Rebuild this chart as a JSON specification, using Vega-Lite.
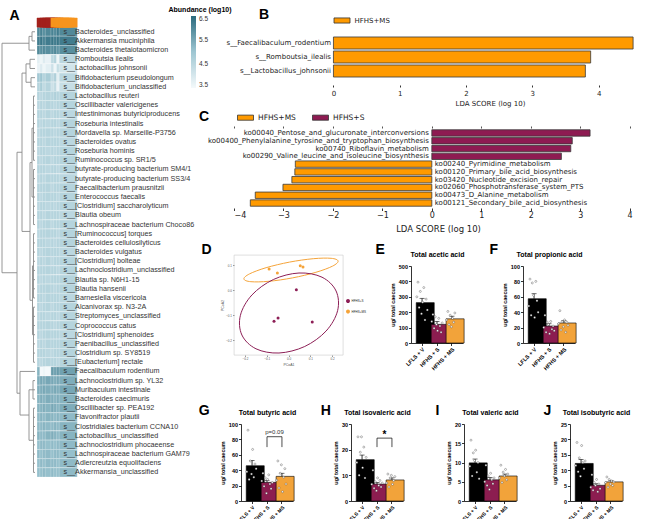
{
 "$schema": "https://vega.github.io/schema/vega-lite/v6.json",
 "background": "#ffffff",
 "padding": {"left": 0, "top": 6, "right": 0, "bottom": 0},
 "config": {
  "view": {"stroke": null},
  "font": "Liberation Sans",
  "axis": {"grid": false, "domainColor": "#000000", "tickColor": "#000000", "labelColor": "#000000", "titleColor": "#000000"},
  "legend": {"labelColor": "#222222"}
 },
 "datasets": {
  "heat": [
   {"sp":"s__Bacteroides_unclassified","S1":6.0,"S2":6.1,"S3":5.9,"S4":6.0,"M1":6.1,"M2":6.0,"M3":6.2,"M4":6.0},
   {"sp":"s__Akkermansia muciniphila","S1":6.2,"S2":6.3,"S3":6.1,"S4":6.2,"M1":6.3,"M2":6.2,"M3":6.3,"M4":6.2},
   {"sp":"s__Bacteroides thetaiotaomicron","S1":6.0,"S2":5.9,"S3":6.0,"S4":5.9,"M1":5.9,"M2":6.0,"M3":5.8,"M4":5.9},
   {"sp":"s__Romboutsia ilealis","S1":3.8,"S2":3.6,"S3":3.9,"S4":3.7,"M1":4.4,"M2":4.6,"M3":3.6,"M4":4.5},
   {"sp":"s__Lactobacillus johnsonii","S1":3.7,"S2":3.9,"S3":3.6,"S4":3.8,"M1":4.2,"M2":3.6,"M3":4.3,"M4":4.1},
   {"sp":"s__Bifidobacterium pseudolongum","S1":4.9,"S2":5.0,"S3":4.6,"S4":4.8,"M1":4.4,"M2":4.7,"M3":3.8,"M4":4.5},
   {"sp":"s__Bifidobacterium_unclassified","S1":4.6,"S2":4.8,"S3":4.4,"S4":4.6,"M1":4.2,"M2":4.4,"M3":3.7,"M4":4.3},
   {"sp":"s__Lactobacillus reuteri","S1":4.6,"S2":4.5,"S3":4.6,"S4":4.6,"M1":4.6,"M2":4.7,"M3":4.6,"M4":4.6},
   {"sp":"s__Oscillibacter valericigenes","S1":4.5,"S2":4.6,"S3":4.5,"S4":4.6,"M1":4.6,"M2":4.5,"M3":4.6,"M4":4.6},
   {"sp":"s__Intestinimonas butyriciproducens","S1":4.6,"S2":4.6,"S3":4.5,"S4":4.6,"M1":4.5,"M2":4.6,"M3":4.6,"M4":4.5},
   {"sp":"s__Roseburia intestinalis","S1":4.6,"S2":4.5,"S3":4.6,"S4":4.5,"M1":4.6,"M2":4.6,"M3":4.5,"M4":4.6},
   {"sp":"s__Mordavella sp. Marseille-P3756","S1":4.5,"S2":4.6,"S3":4.6,"S4":4.6,"M1":4.6,"M2":4.5,"M3":4.6,"M4":4.6},
   {"sp":"s__Bacteroides ovatus","S1":4.6,"S2":4.6,"S3":4.5,"S4":4.6,"M1":4.6,"M2":4.6,"M3":4.6,"M4":4.5},
   {"sp":"s__Roseburia hominis","S1":4.5,"S2":4.6,"S3":4.6,"S4":4.5,"M1":4.6,"M2":4.5,"M3":4.6,"M4":4.6},
   {"sp":"s__Ruminococcus sp. SR1/5","S1":4.6,"S2":4.5,"S3":4.6,"S4":4.6,"M1":4.5,"M2":4.6,"M3":4.6,"M4":4.6},
   {"sp":"s__butyrate-producing bacterium SM4/1","S1":4.6,"S2":4.6,"S3":4.6,"S4":4.5,"M1":4.6,"M2":4.6,"M3":4.5,"M4":4.6},
   {"sp":"s__butyrate-producing bacterium SS3/4","S1":4.5,"S2":4.6,"S3":4.5,"S4":4.6,"M1":4.6,"M2":4.6,"M3":4.6,"M4":4.5},
   {"sp":"s__Faecalibacterium prausnitzii","S1":4.6,"S2":4.6,"S3":4.6,"S4":4.6,"M1":4.5,"M2":4.6,"M3":4.6,"M4":4.6},
   {"sp":"s__Enterococcus faecalis","S1":4.6,"S2":4.5,"S3":4.6,"S4":4.6,"M1":4.6,"M2":4.6,"M3":4.5,"M4":4.6},
   {"sp":"s__[Clostridium] saccharolyticum","S1":4.5,"S2":4.6,"S3":4.6,"S4":4.5,"M1":4.6,"M2":4.5,"M3":4.6,"M4":4.6},
   {"sp":"s__Blautia obeum","S1":4.6,"S2":4.6,"S3":4.5,"S4":4.6,"M1":4.6,"M2":4.6,"M3":4.6,"M4":4.5},
   {"sp":"s__Lachnospiraceae bacterium Choco86","S1":4.6,"S2":4.5,"S3":4.6,"S4":4.6,"M1":4.5,"M2":4.6,"M3":4.6,"M4":4.6},
   {"sp":"s__[Ruminococcus] torques","S1":4.5,"S2":4.6,"S3":4.6,"S4":4.6,"M1":4.6,"M2":4.6,"M3":4.5,"M4":4.6},
   {"sp":"s__Bacteroides cellulosilyticus","S1":4.6,"S2":4.6,"S3":4.6,"S4":4.5,"M1":4.6,"M2":4.5,"M3":4.6,"M4":4.6},
   {"sp":"s__Bacteroides vulgatus","S1":4.6,"S2":4.5,"S3":4.6,"S4":4.6,"M1":4.6,"M2":4.6,"M3":4.6,"M4":4.5},
   {"sp":"s__[Clostridium] bolteae","S1":4.5,"S2":4.6,"S3":4.5,"S4":4.6,"M1":4.5,"M2":4.6,"M3":4.6,"M4":4.6},
   {"sp":"s__Lachnoclostridium_unclassified","S1":4.6,"S2":4.6,"S3":4.6,"S4":4.6,"M1":4.6,"M2":4.6,"M3":4.5,"M4":4.6},
   {"sp":"s__Blautia sp. N6H1-15","S1":4.6,"S2":4.5,"S3":4.6,"S4":4.5,"M1":4.6,"M2":4.6,"M3":4.6,"M4":4.6},
   {"sp":"s__Blautia hansenii","S1":4.5,"S2":4.6,"S3":4.6,"S4":4.6,"M1":4.6,"M2":4.5,"M3":4.6,"M4":4.6},
   {"sp":"s__Barnesiella viscericola","S1":4.6,"S2":4.6,"S3":4.5,"S4":4.6,"M1":4.6,"M2":4.6,"M3":4.6,"M4":4.5},
   {"sp":"s__Alcanivorax sp. N3-2A","S1":4.6,"S2":4.5,"S3":4.6,"S4":4.6,"M1":4.5,"M2":4.6,"M3":4.6,"M4":4.6},
   {"sp":"s__Streptomyces_unclassified","S1":4.5,"S2":4.6,"S3":4.6,"S4":4.5,"M1":4.6,"M2":4.6,"M3":4.5,"M4":4.6},
   {"sp":"s__Coprococcus catus","S1":4.6,"S2":4.6,"S3":4.6,"S4":4.6,"M1":4.6,"M2":4.5,"M3":4.6,"M4":4.6},
   {"sp":"s__[Clostridium] sphenoides","S1":4.6,"S2":4.5,"S3":4.6,"S4":4.6,"M1":4.6,"M2":4.6,"M3":4.6,"M4":4.5},
   {"sp":"s__Paenibacillus_unclassified","S1":4.5,"S2":4.6,"S3":4.5,"S4":4.6,"M1":4.6,"M2":4.6,"M3":4.6,"M4":4.6},
   {"sp":"s__Clostridium sp. SY8519","S1":4.6,"S2":4.6,"S3":4.6,"S4":4.5,"M1":4.5,"M2":4.6,"M3":4.6,"M4":4.6},
   {"sp":"s__[Eubacterium] rectale","S1":4.6,"S2":4.5,"S3":4.6,"S4":4.6,"M1":4.6,"M2":4.6,"M3":4.5,"M4":4.6},
   {"sp":"s__Faecalibaculum rodentium","S1":5.3,"S2":3.5,"S3":3.6,"S4":3.5,"M1":5.7,"M2":5.6,"M3":5.7,"M4":5.6},
   {"sp":"s__Lachnoclostridium sp. YL32","S1":5.4,"S2":5.5,"S3":5.4,"S4":5.5,"M1":5.5,"M2":5.4,"M3":5.5,"M4":5.4},
   {"sp":"s__Muribaculum intestinale","S1":5.4,"S2":5.4,"S3":5.5,"S4":5.4,"M1":5.4,"M2":5.5,"M3":5.4,"M4":5.5},
   {"sp":"s__Bacteroides caecimuris","S1":5.3,"S2":5.4,"S3":5.3,"S4":5.4,"M1":5.4,"M2":5.3,"M3":5.4,"M4":5.3},
   {"sp":"s__Oscillibacter sp. PEA192","S1":5.3,"S2":5.3,"S3":5.4,"S4":5.3,"M1":5.5,"M2":5.4,"M3":5.3,"M4":5.4},
   {"sp":"s__Flavonifractor plautii","S1":5.2,"S2":5.3,"S3":5.2,"S4":5.3,"M1":5.3,"M2":5.2,"M3":5.3,"M4":5.2},
   {"sp":"s__Clostridiales bacterium CCNA10","S1":5.2,"S2":5.2,"S3":5.3,"S4":5.2,"M1":5.2,"M2":5.3,"M3":5.2,"M4":5.3},
   {"sp":"s__Lactobacillus_unclassified","S1":5.3,"S2":5.2,"S3":5.2,"S4":5.3,"M1":5.4,"M2":5.3,"M3":5.2,"M4":5.3},
   {"sp":"s__Lachnoclostridium phocaeense","S1":5.1,"S2":5.2,"S3":5.2,"S4":5.1,"M1":5.2,"M2":5.1,"M3":5.2,"M4":5.2},
   {"sp":"s__Lachnospiraceae bacterium GAM79","S1":5.2,"S2":5.1,"S3":5.2,"S4":5.2,"M1":5.1,"M2":5.2,"M3":5.2,"M4":5.1},
   {"sp":"s__Adlercreutzia equolifaciens","S1":5.1,"S2":5.2,"S3":5.1,"S4":5.2,"M1":5.2,"M2":5.2,"M3":5.1,"M4":5.2},
   {"sp":"s__Akkermansia_unclassified","S1":5.1,"S2":5.1,"S3":5.2,"S4":5.1,"M1":5.2,"M2":5.1,"M3":5.1,"M4":5.2}
  ],
  "dendro": [
   {"h1":0,"h2":3,"r1":1,"r2":1},{"h1":0,"h2":3,"r1":2,"r2":2},{"h1":3,"h2":3,"r1":1,"r2":2},{"h1":3,"h2":6,"r1":1.5,"r2":1.5},{"h1":0,"h2":6,"r1":3,"r2":3},{"h1":6,"h2":6,"r1":1.5,"r2":3},
   {"h1":0,"h2":5,"r1":4,"r2":4},{"h1":0,"h2":5,"r1":5,"r2":5},{"h1":5,"h2":5,"r1":4,"r2":5},{"h1":5,"h2":9,"r1":4.5,"r2":4.5},{"h1":0,"h2":4,"r1":6,"r2":6},{"h1":0,"h2":4,"r1":7,"r2":7},{"h1":4,"h2":4,"r1":6,"r2":7},{"h1":4,"h2":9,"r1":6.5,"r2":6.5},{"h1":9,"h2":9,"r1":4.5,"r2":6.5},
   {"h1":0,"h2":1.5,"r1":8,"r2":8},{"h1":0,"h2":1.5,"r1":9,"r2":9},{"h1":0,"h2":1.5,"r1":10,"r2":10},{"h1":0,"h2":1.5,"r1":11,"r2":11},{"h1":0,"h2":1.5,"r1":12,"r2":12},{"h1":0,"h2":1.5,"r1":13,"r2":13},{"h1":0,"h2":1.5,"r1":14,"r2":14},{"h1":0,"h2":1.5,"r1":15,"r2":15},
   {"h1":0,"h2":1.5,"r1":16,"r2":16},{"h1":0,"h2":1.5,"r1":17,"r2":17},{"h1":0,"h2":1.5,"r1":18,"r2":18},{"h1":0,"h2":1.5,"r1":19,"r2":19},{"h1":0,"h2":1.5,"r1":20,"r2":20},{"h1":0,"h2":1.5,"r1":21,"r2":21},{"h1":0,"h2":1.5,"r1":22,"r2":22},
   {"h1":0,"h2":1.5,"r1":23,"r2":23},{"h1":0,"h2":1.5,"r1":24,"r2":24},{"h1":0,"h2":1.5,"r1":25,"r2":25},{"h1":0,"h2":1.5,"r1":26,"r2":26},{"h1":0,"h2":1.5,"r1":27,"r2":27},{"h1":0,"h2":1.5,"r1":28,"r2":28},{"h1":0,"h2":1.5,"r1":29,"r2":29},{"h1":0,"h2":1.5,"r1":30,"r2":30},
   {"h1":0,"h2":1.5,"r1":31,"r2":31},{"h1":0,"h2":1.5,"r1":32,"r2":32},{"h1":0,"h2":1.5,"r1":33,"r2":33},{"h1":0,"h2":1.5,"r1":34,"r2":34},{"h1":0,"h2":1.5,"r1":35,"r2":35},{"h1":0,"h2":1.5,"r1":36,"r2":36},{"h1":0,"h2":1.5,"r1":37,"r2":37},
   {"h1":1.5,"h2":1.5,"r1":8,"r2":15},{"h1":1.5,"h2":1.5,"r1":16,"r2":22},{"h1":1.5,"h2":1.5,"r1":23,"r2":30},{"h1":1.5,"h2":1.5,"r1":31,"r2":37},
   {"h1":1.5,"h2":3,"r1":11.5,"r2":11.5},{"h1":1.5,"h2":3,"r1":19,"r2":19},{"h1":3,"h2":3,"r1":11.5,"r2":19},
   {"h1":1.5,"h2":2.5,"r1":26.5,"r2":26.5},{"h1":1.5,"h2":2.5,"r1":34,"r2":34},{"h1":2.5,"h2":2.5,"r1":26.5,"r2":34},
   {"h1":3,"h2":5,"r1":15.25,"r2":15.25},{"h1":2.5,"h2":5,"r1":30.25,"r2":30.25},{"h1":5,"h2":5,"r1":15.25,"r2":30.25},
   {"h1":9,"h2":13,"r1":5.5,"r2":5.5},{"h1":5,"h2":13,"r1":22.75,"r2":22.75},{"h1":13,"h2":13,"r1":5.5,"r2":22.75},
   {"h1":0,"h2":2,"r1":39,"r2":39},{"h1":0,"h2":2,"r1":40,"r2":40},{"h1":0,"h2":2,"r1":41,"r2":41},{"h1":2,"h2":2,"r1":39,"r2":41},
   {"h1":0,"h2":1.5,"r1":42,"r2":42},{"h1":0,"h2":1.5,"r1":43,"r2":43},{"h1":0,"h2":1.5,"r1":44,"r2":44},{"h1":0,"h2":1.5,"r1":45,"r2":45},{"h1":0,"h2":1.5,"r1":46,"r2":46},{"h1":0,"h2":1.5,"r1":47,"r2":47},{"h1":0,"h2":1.5,"r1":48,"r2":48},{"h1":0,"h2":1.5,"r1":49,"r2":49},{"h1":1.5,"h2":1.5,"r1":42,"r2":49},
   {"h1":2,"h2":6,"r1":40,"r2":40},{"h1":1.5,"h2":6,"r1":45.5,"r2":45.5},{"h1":6,"h2":6,"r1":40,"r2":45.5},
   {"h1":0,"h2":15,"r1":38,"r2":38},{"h1":6,"h2":15,"r1":42.75,"r2":42.75},{"h1":15,"h2":15,"r1":38,"r2":42.75},
   {"h1":13,"h2":18,"r1":14.125,"r2":14.125},{"h1":15,"h2":18,"r1":40.375,"r2":40.375},{"h1":18,"h2":18,"r1":14.125,"r2":40.375},
   {"h1":6,"h2":33,"r1":2.25,"r2":2.25},{"h1":18,"h2":33,"r1":27.25,"r2":27.25},{"h1":33,"h2":33,"r1":2.25,"r2":27.25}
  ],
  "bars": [
   {"panel":"E","grp":"LFLS + V","mean":262,"hi":290},{"panel":"E","grp":"HFHS + S","mean":121,"hi":140},{"panel":"E","grp":"HFHS + MS","mean":157,"hi":174},
   {"panel":"F","grp":"LFLS + V","mean":57.5,"hi":64},{"panel":"F","grp":"HFHS + S","mean":22,"hi":25},{"panel":"F","grp":"HFHS + MS","mean":26,"hi":29},
   {"panel":"G","grp":"LFLS + V","mean":45.8,"hi":52.5},{"panel":"G","grp":"HFHS + S","mean":24.2,"hi":26.8},{"panel":"G","grp":"HFHS + MS","mean":32,"hi":36},
   {"panel":"H","grp":"LFLS + V","mean":16.1,"hi":17.9},{"panel":"H","grp":"HFHS + S","mean":6.6,"hi":7.2},{"panel":"H","grp":"HFHS + MS","mean":8.2,"hi":9.0},
   {"panel":"I","grp":"LFLS + V","mean":9.9,"hi":10.9},{"panel":"I","grp":"HFHS + S","mean":5.5,"hi":6.1},{"panel":"I","grp":"HFHS + MS","mean":6.5,"hi":7.0},
   {"panel":"J","grp":"LFLS + V","mean":12.2,"hi":13.5},{"panel":"J","grp":"HFHS + S","mean":5.1,"hi":5.6},{"panel":"J","grp":"HFHS + MS","mean":6.2,"hi":6.7}
  ],
  "pts": [
   {"panel":"E","grp":"LFLS + V","rep":1,"v":300},{"panel":"E","grp":"LFLS + V","rep":2,"v":395},{"panel":"E","grp":"LFLS + V","rep":3,"v":230},{"panel":"E","grp":"LFLS + V","rep":4,"v":335},{"panel":"E","grp":"LFLS + V","rep":5,"v":190},{"panel":"E","grp":"LFLS + V","rep":6,"v":265},{"panel":"E","grp":"LFLS + V","rep":7,"v":360},{"panel":"E","grp":"LFLS + V","rep":8,"v":150},{"panel":"E","grp":"LFLS + V","rep":9,"v":285},{"panel":"E","grp":"LFLS + V","rep":10,"v":215},
   {"panel":"E","grp":"HFHS + S","rep":1,"v":140},{"panel":"E","grp":"HFHS + S","rep":2,"v":185},{"panel":"E","grp":"HFHS + S","rep":3,"v":95},{"panel":"E","grp":"HFHS + S","rep":4,"v":170},{"panel":"E","grp":"HFHS + S","rep":5,"v":120},{"panel":"E","grp":"HFHS + S","rep":6,"v":80},{"panel":"E","grp":"HFHS + S","rep":7,"v":160},{"panel":"E","grp":"HFHS + S","rep":8,"v":110},{"panel":"E","grp":"HFHS + S","rep":9,"v":70},{"panel":"E","grp":"HFHS + S","rep":10,"v":130},
   {"panel":"E","grp":"HFHS + MS","rep":1,"v":150},{"panel":"E","grp":"HFHS + MS","rep":2,"v":205},{"panel":"E","grp":"HFHS + MS","rep":3,"v":120},{"panel":"E","grp":"HFHS + MS","rep":4,"v":180},{"panel":"E","grp":"HFHS + MS","rep":5,"v":105},{"panel":"E","grp":"HFHS + MS","rep":6,"v":160},{"panel":"E","grp":"HFHS + MS","rep":7,"v":135},{"panel":"E","grp":"HFHS + MS","rep":8,"v":195},
   {"panel":"F","grp":"LFLS + V","rep":1,"v":48},{"panel":"F","grp":"LFLS + V","rep":2,"v":83},{"panel":"F","grp":"LFLS + V","rep":3,"v":36},{"panel":"F","grp":"LFLS + V","rep":4,"v":78},{"panel":"F","grp":"LFLS + V","rep":5,"v":62},{"panel":"F","grp":"LFLS + V","rep":6,"v":33},{"panel":"F","grp":"LFLS + V","rep":7,"v":80},{"panel":"F","grp":"LFLS + V","rep":8,"v":55},{"panel":"F","grp":"LFLS + V","rep":9,"v":40},
   {"panel":"F","grp":"HFHS + S","rep":1,"v":20},{"panel":"F","grp":"HFHS + S","rep":2,"v":36},{"panel":"F","grp":"HFHS + S","rep":3,"v":14},{"panel":"F","grp":"HFHS + S","rep":4,"v":27},{"panel":"F","grp":"HFHS + S","rep":5,"v":24},{"panel":"F","grp":"HFHS + S","rep":6,"v":12},{"panel":"F","grp":"HFHS + S","rep":7,"v":28},{"panel":"F","grp":"HFHS + S","rep":8,"v":18},{"panel":"F","grp":"HFHS + S","rep":9,"v":22},{"panel":"F","grp":"HFHS + S","rep":10,"v":16},
   {"panel":"F","grp":"HFHS + MS","rep":1,"v":25},{"panel":"F","grp":"HFHS + MS","rep":2,"v":42},{"panel":"F","grp":"HFHS + MS","rep":3,"v":17},{"panel":"F","grp":"HFHS + MS","rep":4,"v":28},{"panel":"F","grp":"HFHS + MS","rep":5,"v":21},{"panel":"F","grp":"HFHS + MS","rep":6,"v":30},{"panel":"F","grp":"HFHS + MS","rep":7,"v":14},{"panel":"F","grp":"HFHS + MS","rep":8,"v":27},{"panel":"F","grp":"HFHS + MS","rep":9,"v":23},
   {"panel":"G","grp":"LFLS + V","rep":1,"v":38},{"panel":"G","grp":"LFLS + V","rep":2,"v":92},{"panel":"G","grp":"LFLS + V","rep":3,"v":28},{"panel":"G","grp":"LFLS + V","rep":4,"v":52},{"panel":"G","grp":"LFLS + V","rep":5,"v":35},{"panel":"G","grp":"LFLS + V","rep":6,"v":67},{"panel":"G","grp":"LFLS + V","rep":7,"v":31},{"panel":"G","grp":"LFLS + V","rep":8,"v":48},{"panel":"G","grp":"LFLS + V","rep":9,"v":42},
   {"panel":"G","grp":"HFHS + S","rep":1,"v":26},{"panel":"G","grp":"HFHS + S","rep":2,"v":36},{"panel":"G","grp":"HFHS + S","rep":3,"v":19},{"panel":"G","grp":"HFHS + S","rep":4,"v":30},{"panel":"G","grp":"HFHS + S","rep":5,"v":10},{"panel":"G","grp":"HFHS + S","rep":6,"v":28},{"panel":"G","grp":"HFHS + S","rep":7,"v":34},{"panel":"G","grp":"HFHS + S","rep":8,"v":22},{"panel":"G","grp":"HFHS + S","rep":9,"v":16},{"panel":"G","grp":"HFHS + S","rep":10,"v":24},
   {"panel":"G","grp":"HFHS + MS","rep":1,"v":27},{"panel":"G","grp":"HFHS + MS","rep":2,"v":52},{"panel":"G","grp":"HFHS + MS","rep":3,"v":17},{"panel":"G","grp":"HFHS + MS","rep":4,"v":36},{"panel":"G","grp":"HFHS + MS","rep":5,"v":47},{"panel":"G","grp":"HFHS + MS","rep":6,"v":12},{"panel":"G","grp":"HFHS + MS","rep":7,"v":31},{"panel":"G","grp":"HFHS + MS","rep":8,"v":42},{"panel":"G","grp":"HFHS + MS","rep":9,"v":22},
   {"panel":"H","grp":"LFLS + V","rep":1,"v":15},{"panel":"H","grp":"LFLS + V","rep":2,"v":25},{"panel":"H","grp":"LFLS + V","rep":3,"v":10},{"panel":"H","grp":"LFLS + V","rep":4,"v":19},{"panel":"H","grp":"LFLS + V","rep":5,"v":25},{"panel":"H","grp":"LFLS + V","rep":6,"v":13},{"panel":"H","grp":"LFLS + V","rep":7,"v":21},{"panel":"H","grp":"LFLS + V","rep":8,"v":9},{"panel":"H","grp":"LFLS + V","rep":9,"v":17},
   {"panel":"H","grp":"HFHS + S","rep":1,"v":6.5},{"panel":"H","grp":"HFHS + S","rep":2,"v":12},{"panel":"H","grp":"HFHS + S","rep":3,"v":5},{"panel":"H","grp":"HFHS + S","rep":4,"v":7.5},{"panel":"H","grp":"HFHS + S","rep":5,"v":4},{"panel":"H","grp":"HFHS + S","rep":6,"v":9},{"panel":"H","grp":"HFHS + S","rep":7,"v":6},{"panel":"H","grp":"HFHS + S","rep":8,"v":8},{"panel":"H","grp":"HFHS + S","rep":9,"v":5.5},{"panel":"H","grp":"HFHS + S","rep":10,"v":7},
   {"panel":"H","grp":"HFHS + MS","rep":1,"v":7},{"panel":"H","grp":"HFHS + MS","rep":2,"v":10.5},{"panel":"H","grp":"HFHS + MS","rep":3,"v":5.5},{"panel":"H","grp":"HFHS + MS","rep":4,"v":9},{"panel":"H","grp":"HFHS + MS","rep":5,"v":10},{"panel":"H","grp":"HFHS + MS","rep":6,"v":6.5},{"panel":"H","grp":"HFHS + MS","rep":7,"v":8},{"panel":"H","grp":"HFHS + MS","rep":8,"v":9.5},
   {"panel":"I","grp":"LFLS + V","rep":1,"v":9},{"panel":"I","grp":"LFLS + V","rep":2,"v":15.8},{"panel":"I","grp":"LFLS + V","rep":3,"v":6.5},{"panel":"I","grp":"LFLS + V","rep":4,"v":12.5},{"panel":"I","grp":"LFLS + V","rep":5,"v":10.5},{"panel":"I","grp":"LFLS + V","rep":6,"v":13.2},{"panel":"I","grp":"LFLS + V","rep":7,"v":7.5},{"panel":"I","grp":"LFLS + V","rep":8,"v":10},{"panel":"I","grp":"LFLS + V","rep":9,"v":5.8},
   {"panel":"I","grp":"HFHS + S","rep":1,"v":5},{"panel":"I","grp":"HFHS + S","rep":2,"v":9.3},{"panel":"I","grp":"HFHS + S","rep":3,"v":4},{"panel":"I","grp":"HFHS + S","rep":4,"v":6.5},{"panel":"I","grp":"HFHS + S","rep":5,"v":3},{"panel":"I","grp":"HFHS + S","rep":6,"v":7.2},{"panel":"I","grp":"HFHS + S","rep":7,"v":5.5},{"panel":"I","grp":"HFHS + S","rep":8,"v":4.5},{"panel":"I","grp":"HFHS + S","rep":9,"v":6},
   {"panel":"I","grp":"HFHS + MS","rep":1,"v":6},{"panel":"I","grp":"HFHS + MS","rep":2,"v":9.3},{"panel":"I","grp":"HFHS + MS","rep":3,"v":4.8},{"panel":"I","grp":"HFHS + MS","rep":4,"v":7.5},{"panel":"I","grp":"HFHS + MS","rep":5,"v":6.5},{"panel":"I","grp":"HFHS + MS","rep":6,"v":8.2},{"panel":"I","grp":"HFHS + MS","rep":7,"v":5.5},{"panel":"I","grp":"HFHS + MS","rep":8,"v":7},
   {"panel":"J","grp":"LFLS + V","rep":1,"v":11.5},{"panel":"J","grp":"LFLS + V","rep":2,"v":19},{"panel":"J","grp":"LFLS + V","rep":3,"v":9.5},{"panel":"J","grp":"LFLS + V","rep":4,"v":14},{"panel":"J","grp":"LFLS + V","rep":5,"v":8},{"panel":"J","grp":"LFLS + V","rep":6,"v":18},{"panel":"J","grp":"LFLS + V","rep":7,"v":12.5},{"panel":"J","grp":"LFLS + V","rep":8,"v":10.5},{"panel":"J","grp":"LFLS + V","rep":9,"v":13},
   {"panel":"J","grp":"HFHS + S","rep":1,"v":4.5},{"panel":"J","grp":"HFHS + S","rep":2,"v":8.5},{"panel":"J","grp":"HFHS + S","rep":3,"v":3.5},{"panel":"J","grp":"HFHS + S","rep":4,"v":6},{"panel":"J","grp":"HFHS + S","rep":5,"v":5},{"panel":"J","grp":"HFHS + S","rep":6,"v":7},{"panel":"J","grp":"HFHS + S","rep":7,"v":3},{"panel":"J","grp":"HFHS + S","rep":8,"v":5.5},{"panel":"J","grp":"HFHS + S","rep":9,"v":4},
   {"panel":"J","grp":"HFHS + MS","rep":1,"v":6},{"panel":"J","grp":"HFHS + MS","rep":2,"v":7.8},{"panel":"J","grp":"HFHS + MS","rep":3,"v":4.5},{"panel":"J","grp":"HFHS + MS","rep":4,"v":7},{"panel":"J","grp":"HFHS + MS","rep":5,"v":5.5},{"panel":"J","grp":"HFHS + MS","rep":6,"v":6.5},{"panel":"J","grp":"HFHS + MS","rep":7,"v":5},{"panel":"J","grp":"HFHS + MS","rep":8,"v":6.2}
  ],
  "brk": [
   {"panel":"G","grp":"HFHS + S","y":70,"k":1},{"panel":"G","grp":"HFHS + S","y":83.5,"k":2},{"panel":"G","grp":"HFHS + MS","y":83.5,"k":3},{"panel":"G","grp":"HFHS + MS","y":70,"k":4},
   {"panel":"H","grp":"HFHS + S","y":21,"k":1},{"panel":"H","grp":"HFHS + S","y":24.5,"k":2},{"panel":"H","grp":"HFHS + MS","y":24.5,"k":3},{"panel":"H","grp":"HFHS + MS","y":21,"k":4}
  ],
  "pcoa": [
   {"g":"HFHS+MS","x":-0.089,"y":0.084},{"g":"HFHS+MS","x":-0.051,"y":0.068},{"g":"HFHS+MS","x":0.054,"y":0.097},{"g":"HFHS+MS","x":0.0665,"y":0.092},
   {"g":"HFHS+S","x":0.036,"y":0.001},{"g":"HFHS+S","x":-0.048,"y":-0.112},{"g":"HFHS+S","x":-0.0665,"y":-0.125},{"g":"HFHS+S","x":0.109,"y":-0.128}
  ],
  "ell": [
   {"g":"HFHS+MS","k":0,"x":0.2275,"y":0.116},{"g":"HFHS+MS","k":1,"x":0.2023,"y":0.0956},{"g":"HFHS+MS","k":2,"x":0.1257,"y":0.0708},{"g":"HFHS+MS","k":3,"x":0.0183,"y":0.0484},{"g":"HFHS+MS","k":4,"x":-0.0908,"y":0.0348},{"g":"HFHS+MS","k":5,"x":-0.1725,"y":0.0332},{"g":"HFHS+MS","k":6,"x":-0.2046,"y":0.044},{"g":"HFHS+MS","k":7,"x":-0.1789,"y":0.0644},{"g":"HFHS+MS","k":8,"x":-0.1028,"y":0.0892},{"g":"HFHS+MS","k":9,"x":0.0046,"y":0.1116},{"g":"HFHS+MS","k":10,"x":0.1138,"y":0.1252},{"g":"HFHS+MS","k":11,"x":0.1954,"y":0.1268},
   {"g":"HFHS+S","k":0,"x":0.2183,"y":-0.004},{"g":"HFHS+S","k":1,"x":0.2252,"y":-0.0828},{"g":"HFHS+S","k":2,"x":0.1725,"y":-0.164},{"g":"HFHS+S","k":3,"x":0.0743,"y":-0.226},{"g":"HFHS+S","k":4,"x":-0.0436,"y":-0.252},{"g":"HFHS+S","k":5,"x":-0.1491,"y":-0.2352},{"g":"HFHS+S","k":6,"x":-0.2138,"y":-0.18},{"g":"HFHS+S","k":7,"x":-0.2206,"y":-0.1012},{"g":"HFHS+S","k":8,"x":-0.1679,"y":-0.02},{"g":"HFHS+S","k":9,"x":-0.0693,"y":0.042},{"g":"HFHS+S","k":10,"x":0.0482,"y":0.068},{"g":"HFHS+S","k":11,"x":0.1537,"y":0.0512}
  ]
 },
 "hconcat": [
  {
   "hconcat": [
    {
     "width": 35, "height": 459,
     "data": {"name": "dendro"},
     "mark": {"type": "rule", "color": "#8a8a8a", "strokeWidth": 0.9},
     "encoding": {
      "x": {"field": "h1", "type": "quantitative", "scale": {"domain": [0, 35], "reverse": true, "nice": false, "zero": false}, "axis": null},
      "x2": {"field": "h2"},
      "y": {"field": "r1", "type": "quantitative", "scale": {"domain": [-0.5, 49.5], "reverse": true, "nice": false, "zero": false},
            "axis": {"labels": false, "ticks": false, "domain": false, "minExtent": 0, "maxExtent": 0, "title": "A", "titleX": 9, "titleY": 1, "titleAngle": 0, "titleAlign": "left", "titleBaseline": "alphabetic", "titleFontSize": 14, "titleFontWeight": "bold"}},
      "y2": {"field": "r2"}
     }
    },
    {
     "width": 25, "height": 459,
     "layer": [
      {
       "data": {"name": "heat"},
       "transform": [{"fold": ["S1", "S2", "S3", "S4", "M1", "M2", "M3", "M4"], "as": ["col", "val"]}],
       "mark": {"type": "rect", "stroke": "#ffffff", "strokeWidth": 0.25},
       "encoding": {
        "x": {"field": "col", "type": "nominal", "scale": {"domain": ["S1", "S2", "S3", "S4", "gap", "M1", "M2", "M3", "M4"], "paddingInner": 0, "paddingOuter": 0}, "axis": null},
        "y": {"field": "sp", "type": "nominal",
              "scale": {"domain": ["hdr","s__Bacteroides_unclassified","s__Akkermansia muciniphila","s__Bacteroides thetaiotaomicron","s__Romboutsia ilealis","s__Lactobacillus johnsonii","s__Bifidobacterium pseudolongum","s__Bifidobacterium_unclassified","s__Lactobacillus reuteri","s__Oscillibacter valericigenes","s__Intestinimonas butyriciproducens","s__Roseburia intestinalis","s__Mordavella sp. Marseille-P3756","s__Bacteroides ovatus","s__Roseburia hominis","s__Ruminococcus sp. SR1/5","s__butyrate-producing bacterium SM4/1","s__butyrate-producing bacterium SS3/4","s__Faecalibacterium prausnitzii","s__Enterococcus faecalis","s__[Clostridium] saccharolyticum","s__Blautia obeum","s__Lachnospiraceae bacterium Choco86","s__[Ruminococcus] torques","s__Bacteroides cellulosilyticus","s__Bacteroides vulgatus","s__[Clostridium] bolteae","s__Lachnoclostridium_unclassified","s__Blautia sp. N6H1-15","s__Blautia hansenii","s__Barnesiella viscericola","s__Alcanivorax sp. N3-2A","s__Streptomyces_unclassified","s__Coprococcus catus","s__[Clostridium] sphenoides","s__Paenibacillus_unclassified","s__Clostridium sp. SY8519","s__[Eubacterium] rectale","s__Faecalibaculum rodentium","s__Lachnoclostridium sp. YL32","s__Muribaculum intestinale","s__Bacteroides caecimuris","s__Oscillibacter sp. PEA192","s__Flavonifractor plautii","s__Clostridiales bacterium CCNA10","s__Lactobacillus_unclassified","s__Lachnoclostridium phocaeense","s__Lachnospiraceae bacterium GAM79","s__Adlercreutzia equolifaciens","s__Akkermansia_unclassified"], "paddingInner": 0, "paddingOuter": 0},
              "axis": {"orient": "right", "title": null, "domain": false, "ticks": false, "labelFontSize": 7.2, "labelPadding": 1, "labelColor": "#333333", "labelLimit": 220, "labelExpr": "datum.value == 'hdr' ? '' : datum.value"}},
        "color": {"field": "val", "type": "quantitative",
                  "scale": {"domain": [3.5, 5, 6.5], "range": ["#f4f9fb", "#9ec6d2", "#2a6a7d"], "interpolate": "rgb"},
                  "legend": {"orient": "none", "legendX": 168, "legendY": -12, "title": "Abundance (log10)", "titleFontSize": 7, "titleFontWeight": "bold", "titleAnchor": "middle", "titlePadding": 3, "gradientLength": 72, "gradientThickness": 5, "gradientStrokeWidth": 0, "values": [3.5, 4.5, 5.5, 6.5], "format": ".1f", "labelFontSize": 6.5, "labelOffset": 3, "direction": "vertical", "labelColor": "#333333", "titleColor": "#000000"}}
       }
      },
      {
       "data": {"values": [{"sp":"hdr","col":"S1","g":"S"},{"sp":"hdr","col":"S2","g":"S"},{"sp":"hdr","col":"S3","g":"S"},{"sp":"hdr","col":"S4","g":"S"},{"sp":"hdr","col":"M1","g":"M"},{"sp":"hdr","col":"M2","g":"M"},{"sp":"hdr","col":"M3","g":"M"},{"sp":"hdr","col":"M4","g":"M"}]},
       "mark": {"type": "rect", "strokeWidth": 0.5},
       "encoding": {
        "x": {"field": "col", "type": "nominal"},
        "y": {"field": "sp", "type": "nominal"},
        "fill": {"condition": {"test": "datum.g === 'S'", "value": "#a3201b"}, "value": "#f7941d"},
        "stroke": {"condition": {"test": "datum.g === 'S'", "value": "#a3201b"}, "value": "#f7941d"}
       }
      }
     ]
    }
   ],
   "spacing": 0
  },
  {
   "concat": [
    {
     "concat": [
      {
       "width": 404.4, "height": 60,
       "data": {"values": [{"taxon":"s__Faecalibaculum_rodentium","lda":4.52,"grp":"HFHS+MS"},{"taxon":"s__Romboutsia_ilealis","lda":3.88,"grp":"HFHS+MS"},{"taxon":"s__Lactobacillus_johnsonii","lda":3.8,"grp":"HFHS+MS"}]},
       "mark": {"type": "bar", "stroke": "#3a3a3a", "strokeWidth": 0.8},
       "encoding": {
        "y": {"field": "taxon", "type": "nominal", "sort": null, "scale": {"range": [18, 60], "paddingInner": 0.14, "paddingOuter": 0.07},
              "axis": {"offset": -99.5, "domain": false, "ticks": false, "labelFont": "DejaVu Sans", "labelFontSize": 7, "labelPadding": 3, "labelColor": "#222222", "minExtent": 0, "labelLimit": 200,
                       "title": "B", "titleX": -75, "titleY": 0, "titleAngle": 0, "titleAlign": "left", "titleBaseline": "alphabetic", "titleFont": "Liberation Sans", "titleFontSize": 14, "titleFontWeight": "bold"}},
        "x": {"field": "lda", "type": "quantitative", "scale": {"domain": [-1.5, 4.6], "nice": false},
              "axis": {"values": [0, 1, 2, 3, 4], "format": "d", "title": "LDA SCORE (log 10)", "titleX": 256, "domain": false, "tickSize": 2, "tickColor": "#333333", "offset": 7, "labelFont": "DejaVu Sans", "labelFontSize": 7, "labelPadding": 2, "labelColor": "#222222", "titleFont": "DejaVu Sans", "titleFontSize": 7, "titleFontWeight": "normal", "titlePadding": 3, "titleColor": "#222222"}},
        "color": {"field": "grp", "type": "nominal", "scale": {"domain": ["HFHS+MS"], "range": ["#ff9a00"]},
                  "legend": {"orient": "none", "legendX": 99.5, "legendY": -6, "title": null, "symbolType": "M-1,-0.32H1V0.32H-1Z", "symbolSize": 256, "symbolStrokeColor": "#333333", "symbolStrokeWidth": 0.8, "labelFont": "DejaVu Sans", "labelFontSize": 7, "labelOffset": 4}}
       }
      },
      {
       "width": 408, "height": 78,
       "data": {"values": [
        {"path":"ko00040_Pentose_and_glucuronate_interconversions","lda":3.2,"grp":"HFHS+S"},
        {"path":"ko00400_Phenylalanine_tyrosine_and_tryptophan_biosynthesis","lda":2.84,"grp":"HFHS+S"},
        {"path":"ko00740_Riboflavin_metabolism","lda":2.81,"grp":"HFHS+S"},
        {"path":"ko00290_Valine_leucine_and_isoleucine_biosynthesis","lda":2.62,"grp":"HFHS+S"},
        {"path":"ko00240_Pyrimidine_metabolism","lda":-2.76,"grp":"HFHS+MS"},
        {"path":"ko00120_Primary_bile_acid_biosynthesis","lda":-2.77,"grp":"HFHS+MS"},
        {"path":"ko03420_Nucleotide_excision_repair","lda":-2.83,"grp":"HFHS+MS"},
        {"path":"ko02060_Phosphotransferase_system_PTS","lda":-3.01,"grp":"HFHS+MS"},
        {"path":"ko00473_D_Alanine_metabolism","lda":-3.57,"grp":"HFHS+MS"},
        {"path":"ko00121_Secondary_bile_acid_biosynthesis","lda":-3.67,"grp":"HFHS+MS"}
       ]},
       "resolve": {"axis": {"x": "independent"}},
       "layer": [
        {
         "mark": {"type": "bar", "stroke": "#3a3a3a", "strokeWidth": 0.8},
         "encoding": {
          "y": {"field": "path", "type": "nominal", "sort": null, "scale": {"paddingInner": 0.18, "paddingOuter": 0.1}, "axis": null},
          "x": {"field": "lda", "type": "quantitative", "scale": {"domain": [-4, 4.25], "nice": false, "zero": false},
                "axis": {"values": [-4, -3, -2, -1, 0, 1, 2, 3, 4], "format": "d", "title": "LDA SCORE (log 10)", "domain": false, "tickSize": 2.5, "tickColor": "#333333", "offset": 1, "labelFont": "DejaVu Sans", "labelFontSize": 8, "labelPadding": 1, "labelColor": "#222222", "titleFont": "DejaVu Sans", "titleFontSize": 8.5, "titleFontWeight": "normal", "titlePadding": 5, "titleColor": "#222222"}},
          "color": {"field": "grp", "type": "nominal", "scale": {"domain": ["HFHS+MS", "HFHS+S"], "range": ["#ff9a00", "#8e1b52"]},
                    "legend": {"orient": "none", "direction": "horizontal", "columns": 2, "columnPadding": 14, "legendX": 3, "legendY": -20, "title": null, "symbolType": "M-1,-0.32H1V0.32H-1Z", "symbolSize": 256, "symbolStrokeColor": "#333333", "symbolStrokeWidth": 0.8, "labelFont": "DejaVu Sans", "labelFontSize": 7.5, "labelOffset": 4}}
         }
        },
        {
         "transform": [{"filter": "datum.lda > 0"}],
         "mark": {"type": "text", "align": "right", "baseline": "middle", "dx": -3, "font": "DejaVu Sans", "fontSize": 7, "color": "#222222"},
         "encoding": {
          "y": {"field": "path", "type": "nominal", "sort": null},
          "x": {"datum": 0, "type": "quantitative",
                "axis": {"orient": "top", "values": [-4, -3, -2, -1, 0, 1, 2, 3, 4], "labels": false, "domain": false, "tickSize": 2, "tickColor": "#555555", "offset": 1, "minExtent": 0,
                         "title": "C", "titleX": -35.5, "titleY": -8, "titleAngle": 0, "titleAlign": "left", "titleBaseline": "alphabetic", "titleFont": "Liberation Sans", "titleFontSize": 14, "titleFontWeight": "bold"}},
          "text": {"field": "path"}
         }
        },
        {
         "transform": [{"filter": "datum.lda < 0"}],
         "mark": {"type": "text", "align": "left", "baseline": "middle", "dx": 3, "font": "DejaVu Sans", "fontSize": 7, "color": "#222222"},
         "encoding": {
          "y": {"field": "path", "type": "nominal", "sort": null},
          "x": {"datum": 0, "type": "quantitative", "axis": null},
          "text": {"field": "path"}
         }
        }
       ]
      }
     ],
     "columns": 1, "align": "none", "spacing": 3,
     "resolve": {"scale": {"color": "independent"}}
    },
    {
     "concat": [
      {
       "concat": [
        {
         "width": 109, "height": 100,
         "view": {"stroke": "#c8c8c8", "strokeWidth": 0.6},
         "resolve": {"axis": {"x": "independent"}},
         "layer": [
          {
           "data": {"name": "pcoa"},
           "mark": {"type": "circle", "size": 9, "opacity": 1},
           "encoding": {
            "x": {"field": "x", "type": "quantitative", "scale": {"domain": [-0.25, 0.25], "nice": false, "zero": false},
                  "axis": {"title": "PCoA1", "titleFontSize": 3.5, "titleFontWeight": "normal", "titlePadding": 1.5, "labelFontSize": 3, "tickSize": 1.5, "labelPadding": 1, "domain": false, "values": [-0.2, -0.1, 0, 0.1, 0.2], "labelColor": "#555555", "tickColor": "#999999", "titleColor": "#555555"}},
            "y": {"field": "y", "type": "quantitative", "title": "PCoA2", "scale": {"domain": [-0.26, 0.14], "nice": false, "zero": false},
                  "axis": {"titleFontSize": 3.5, "titleFontWeight": "normal", "titlePadding": 1.5, "labelFontSize": 3, "tickSize": 1.5, "labelPadding": 1, "domain": false, "values": [-0.2, -0.1, 0, 0.1], "labelColor": "#555555", "tickColor": "#999999", "titleColor": "#555555"}},
            "color": {"field": "g", "type": "nominal", "scale": {"domain": ["HFHS+S", "HFHS+MS"], "range": ["#8d1f56", "#f5a43a"]},
                      "legend": {"orient": "none", "legendX": 112, "legendY": 44, "title": null, "labelFontSize": 3, "symbolSize": 6, "symbolType": "circle", "rowPadding": 0.5, "labelOffset": 1.5}}
           }
          },
          {
           "data": {"name": "ell"},
           "mark": {"type": "line", "interpolate": "cardinal-closed", "strokeWidth": 1},
           "encoding": {
            "x": {"field": "x", "type": "quantitative",
                  "axis": {"orient": "top", "labels": false, "ticks": false, "domain": false, "minExtent": 0, "title": "D", "titleX": -33, "titleY": -2, "titleAngle": 0, "titleAlign": "left", "titleBaseline": "alphabetic", "titleFontSize": 14, "titleFontWeight": "bold"}},
            "y": {"field": "y", "type": "quantitative", "title": "PCoA2",
                  "axis": {"titleFontSize": 3.5, "titleFontWeight": "normal", "titlePadding": 1.5, "labelFontSize": 3, "tickSize": 1.5, "labelPadding": 1, "domain": false, "values": [-0.2, -0.1, 0, 0.1], "labelColor": "#555555", "tickColor": "#999999", "titleColor": "#555555"}},
            "color": {"field": "g", "type": "nominal"},
            "order": {"field": "k"}
           }
          }
         ]
        },
        {
         "hconcat": [
          {
           "width": 52, "height": 88,
           "resolve": {"axis": {"x": "independent"}},
           "layer": [
            {"data": {"name": "bars"}, "transform": [{"filter": "datum.panel === 'E'"}],
             "mark": {"type": "bar", "stroke": "#000000", "strokeWidth": 0.6},
             "encoding": {
              "x": {"field": "grp", "type": "nominal", "sort": ["LFLS + V", "HFHS + S", "HFHS + MS"], "scale": {"paddingInner": 0.22, "paddingOuter": 0.35},
                    "axis": {"title": null, "labelAngle": -45, "labelFontSize": 5.5, "labelFontWeight": "bold", "tickSize": 2.5, "labelPadding": 1, "domainWidth": 0.8, "tickWidth": 0.8}},
              "y": {"field": "mean", "type": "quantitative", "title": "ug/ total caecum", "scale": {"domain": [0, 500], "range": [88, 11], "nice": false},
                    "axis": {"values": [0, 100, 200, 300, 400, 500], "labelOverlap": false, "labelFontSize": 5.5, "labelFontWeight": "bold", "titleFontSize": 5.5, "titleFontWeight": "bold", "titlePadding": 3, "tickSize": 2.5, "labelPadding": 1, "domainWidth": 0.8, "tickWidth": 0.8}},
              "color": {"field": "grp", "type": "nominal", "scale": {"domain": ["LFLS + V", "HFHS + S", "HFHS + MS"], "range": ["#000000", "#8c1d50", "#f2a33a"]}, "legend": null}
             }},
            {"data": {"name": "bars"}, "transform": [{"filter": "datum.panel === 'E'"}],
             "mark": {"type": "rule", "color": "#000000", "strokeWidth": 0.8},
             "encoding": {"x": {"field": "grp", "type": "nominal", "sort": ["LFLS + V", "HFHS + S", "HFHS + MS"], "axis": null},
                          "y": {"field": "mean", "type": "quantitative", "title": "ug/ total caecum", "axis": {"values": [0, 100, 200, 300, 400, 500], "labelOverlap": false, "labelFontSize": 5.5, "labelFontWeight": "bold", "titleFontSize": 5.5, "titleFontWeight": "bold", "titlePadding": 3, "tickSize": 2.5, "labelPadding": 1, "domainWidth": 0.8, "tickWidth": 0.8}}, "y2": {"field": "hi"}}},
            {"data": {"name": "bars"}, "transform": [{"filter": "datum.panel === 'E'"}],
             "mark": {"type": "tick", "color": "#000000", "thickness": 0.8, "size": 5},
             "encoding": {"x": {"field": "grp", "type": "nominal", "sort": ["LFLS + V", "HFHS + S", "HFHS + MS"],
                                "axis": {"orient": "top", "labels": false, "ticks": false, "domain": false, "minExtent": 0, "title": "E", "titleX": -36, "titleY": -2, "titleAngle": 0, "titleAlign": "left", "titleBaseline": "alphabetic", "titleFontSize": 14, "titleFontWeight": "bold"}},
                          "y": {"field": "hi", "type": "quantitative", "title": "ug/ total caecum", "axis": {"values": [0, 100, 200, 300, 400, 500], "labelOverlap": false, "labelFontSize": 5.5, "labelFontWeight": "bold", "titleFontSize": 5.5, "titleFontWeight": "bold", "titlePadding": 3, "tickSize": 2.5, "labelPadding": 1, "domainWidth": 0.8, "tickWidth": 0.8}}}},
            {"data": {"name": "pts"}, "transform": [{"filter": "datum.panel === 'E'"}],
             "mark": {"type": "circle", "size": 4, "fill": "#ffffff", "stroke": "#333333", "strokeWidth": 0.35, "opacity": 1},
             "encoding": {"x": {"field": "grp", "type": "nominal", "sort": ["LFLS + V", "HFHS + S", "HFHS + MS"],
                                "axis": {"orient": "top", "labels": false, "ticks": false, "domain": false, "minExtent": 0, "title": "Total acetic acid", "titleX": 26, "titleY": 1, "titleAngle": 0, "titleAlign": "center", "titleBaseline": "alphabetic", "titleFontSize": 7, "titleFontWeight": "bold"}},
                          "xOffset": {"field": "rep", "type": "nominal", "scale": {"paddingOuter": 0.5}},
                          "y": {"field": "v", "type": "quantitative", "title": "ug/ total caecum", "axis": {"values": [0, 100, 200, 300, 400, 500], "labelOverlap": false, "labelFontSize": 5.5, "labelFontWeight": "bold", "titleFontSize": 5.5, "titleFontWeight": "bold", "titlePadding": 3, "tickSize": 2.5, "labelPadding": 1, "domainWidth": 0.8, "tickWidth": 0.8}}}}
           ]
          },
          {
           "width": 52, "height": 88,
           "resolve": {"axis": {"x": "independent"}},
           "layer": [
            {"data": {"name": "bars"}, "transform": [{"filter": "datum.panel === 'F'"}],
             "mark": {"type": "bar", "stroke": "#000000", "strokeWidth": 0.6},
             "encoding": {
              "x": {"field": "grp", "type": "nominal", "sort": ["LFLS + V", "HFHS + S", "HFHS + MS"], "scale": {"paddingInner": 0.22, "paddingOuter": 0.35},
                    "axis": {"title": null, "labelAngle": -45, "labelFontSize": 5.5, "labelFontWeight": "bold", "tickSize": 2.5, "labelPadding": 1, "domainWidth": 0.8, "tickWidth": 0.8}},
              "y": {"field": "mean", "type": "quantitative", "title": "ug/ total caecum", "scale": {"domain": [0, 100], "range": [88, 11], "nice": false},
                    "axis": {"values": [0, 20, 40, 60, 80, 100], "labelOverlap": false, "labelFontSize": 5.5, "labelFontWeight": "bold", "titleFontSize": 5.5, "titleFontWeight": "bold", "titlePadding": 3, "tickSize": 2.5, "labelPadding": 1, "domainWidth": 0.8, "tickWidth": 0.8}},
              "color": {"field": "grp", "type": "nominal", "scale": {"domain": ["LFLS + V", "HFHS + S", "HFHS + MS"], "range": ["#000000", "#8c1d50", "#f2a33a"]}, "legend": null}
             }},
            {"data": {"name": "bars"}, "transform": [{"filter": "datum.panel === 'F'"}],
             "mark": {"type": "rule", "color": "#000000", "strokeWidth": 0.8},
             "encoding": {"x": {"field": "grp", "type": "nominal", "sort": ["LFLS + V", "HFHS + S", "HFHS + MS"], "axis": null},
                          "y": {"field": "mean", "type": "quantitative", "title": "ug/ total caecum", "axis": {"values": [0, 20, 40, 60, 80, 100], "labelOverlap": false, "labelFontSize": 5.5, "labelFontWeight": "bold", "titleFontSize": 5.5, "titleFontWeight": "bold", "titlePadding": 3, "tickSize": 2.5, "labelPadding": 1, "domainWidth": 0.8, "tickWidth": 0.8}}, "y2": {"field": "hi"}}},
            {"data": {"name": "bars"}, "transform": [{"filter": "datum.panel === 'F'"}],
             "mark": {"type": "tick", "color": "#000000", "thickness": 0.8, "size": 5},
             "encoding": {"x": {"field": "grp", "type": "nominal", "sort": ["LFLS + V", "HFHS + S", "HFHS + MS"],
                                "axis": {"orient": "top", "labels": false, "ticks": false, "domain": false, "minExtent": 0, "title": "F", "titleX": -34, "titleY": -2, "titleAngle": 0, "titleAlign": "left", "titleBaseline": "alphabetic", "titleFontSize": 14, "titleFontWeight": "bold"}},
                          "y": {"field": "hi", "type": "quantitative", "title": "ug/ total caecum", "axis": {"values": [0, 20, 40, 60, 80, 100], "labelOverlap": false, "labelFontSize": 5.5, "labelFontWeight": "bold", "titleFontSize": 5.5, "titleFontWeight": "bold", "titlePadding": 3, "tickSize": 2.5, "labelPadding": 1, "domainWidth": 0.8, "tickWidth": 0.8}}}},
            {"data": {"name": "pts"}, "transform": [{"filter": "datum.panel === 'F'"}],
             "mark": {"type": "circle", "size": 4, "fill": "#ffffff", "stroke": "#333333", "strokeWidth": 0.35, "opacity": 1},
             "encoding": {"x": {"field": "grp", "type": "nominal", "sort": ["LFLS + V", "HFHS + S", "HFHS + MS"],
                                "axis": {"orient": "top", "labels": false, "ticks": false, "domain": false, "minExtent": 0, "title": "Total propionic acid", "titleX": 26, "titleY": 1, "titleAngle": 0, "titleAlign": "center", "titleBaseline": "alphabetic", "titleFontSize": 7, "titleFontWeight": "bold"}},
                          "xOffset": {"field": "rep", "type": "nominal", "scale": {"paddingOuter": 0.5}},
                          "y": {"field": "v", "type": "quantitative", "title": "ug/ total caecum", "axis": {"values": [0, 20, 40, 60, 80, 100], "labelOverlap": false, "labelFontSize": 5.5, "labelFontWeight": "bold", "titleFontSize": 5.5, "titleFontWeight": "bold", "titlePadding": 3, "tickSize": 2.5, "labelPadding": 1, "domainWidth": 0.8, "tickWidth": 0.8}}}}
           ]
          }
         ],
         "spacing": 24,
         "resolve": {"scale": {"color": "independent"}}
        }
       ],
       "columns": 2, "align": "none", "spacing": 8,
       "resolve": {"scale": {"color": "independent"}}
      },
      {
       "hconcat": [
        {
         "width": 59, "height": 100,
         "resolve": {"axis": {"x": "independent"}},
         "layer": [
          {"data": {"name": "bars"}, "transform": [{"filter": "datum.panel === 'G'"}],
           "mark": {"type": "bar", "stroke": "#000000", "strokeWidth": 0.6},
           "encoding": {
            "x": {"field": "grp", "type": "nominal", "sort": ["LFLS + V", "HFHS + S", "HFHS + MS"], "scale": {"range": [7, 59], "paddingInner": 0.22, "paddingOuter": 0.35},
                  "axis": {"title": null, "labelAngle": -45, "labelFontSize": 5, "labelFontWeight": "bold", "tickSize": 2.5, "labelPadding": 1, "domainWidth": 0.8, "tickWidth": 0.8}},
            "y": {"field": "mean", "type": "quantitative", "title": "ug/ total caecum", "scale": {"domain": [0, 100], "range": [100, 23], "nice": false},
                  "axis": {"offset": -7, "values": [0, 20, 40, 60, 80, 100], "labelOverlap": false, "labelFontSize": 5.5, "labelFontWeight": "bold", "titleFontSize": 5.5, "titleFontWeight": "bold", "titlePadding": 3, "tickSize": 2.5, "labelPadding": 1, "domainWidth": 0.8, "tickWidth": 0.8}},
            "color": {"field": "grp", "type": "nominal", "scale": {"domain": ["LFLS + V", "HFHS + S", "HFHS + MS"], "range": ["#000000", "#8c1d50", "#f2a33a"]}, "legend": null}
           }},
          {"data": {"name": "bars"}, "transform": [{"filter": "datum.panel === 'G'"}],
           "mark": {"type": "rule", "color": "#000000", "strokeWidth": 0.8},
           "encoding": {"x": {"field": "grp", "type": "nominal", "sort": ["LFLS + V", "HFHS + S", "HFHS + MS"], "axis": null},
                        "y": {"field": "mean", "type": "quantitative", "title": "ug/ total caecum", "axis": {"offset": -7, "values": [0, 20, 40, 60, 80, 100], "labelOverlap": false, "labelFontSize": 5.5, "labelFontWeight": "bold", "titleFontSize": 5.5, "titleFontWeight": "bold", "titlePadding": 3, "tickSize": 2.5, "labelPadding": 1, "domainWidth": 0.8, "tickWidth": 0.8}}, "y2": {"field": "hi"}}},
          {"data": {"name": "bars"}, "transform": [{"filter": "datum.panel === 'G'"}],
           "mark": {"type": "tick", "color": "#000000", "thickness": 0.8, "size": 5},
           "encoding": {"x": {"field": "grp", "type": "nominal", "sort": ["LFLS + V", "HFHS + S", "HFHS + MS"],
                              "axis": {"orient": "top", "labels": false, "ticks": false, "domain": false, "minExtent": 0, "title": "G", "titleX": -35.7, "titleY": 13, "titleAngle": 0, "titleAlign": "left", "titleBaseline": "alphabetic", "titleFontSize": 14, "titleFontWeight": "bold"}},
                        "y": {"field": "hi", "type": "quantitative", "title": "ug/ total caecum", "axis": {"offset": -7, "values": [0, 20, 40, 60, 80, 100], "labelOverlap": false, "labelFontSize": 5.5, "labelFontWeight": "bold", "titleFontSize": 5.5, "titleFontWeight": "bold", "titlePadding": 3, "tickSize": 2.5, "labelPadding": 1, "domainWidth": 0.8, "tickWidth": 0.8}}}},
          {"data": {"name": "pts"}, "transform": [{"filter": "datum.panel === 'G'"}],
           "mark": {"type": "circle", "size": 4, "fill": "#ffffff", "stroke": "#333333", "strokeWidth": 0.35, "opacity": 1},
           "encoding": {"x": {"field": "grp", "type": "nominal", "sort": ["LFLS + V", "HFHS + S", "HFHS + MS"],
                              "axis": {"orient": "top", "labels": false, "ticks": false, "domain": false, "minExtent": 0, "title": "Total butyric acid", "titleX": 33, "titleY": 13, "titleAngle": 0, "titleAlign": "center", "titleBaseline": "alphabetic", "titleFontSize": 7, "titleFontWeight": "bold"}},
                        "xOffset": {"field": "rep", "type": "nominal", "scale": {"paddingOuter": 0.5}},
                        "y": {"field": "v", "type": "quantitative", "title": "ug/ total caecum", "axis": {"offset": -7, "values": [0, 20, 40, 60, 80, 100], "labelOverlap": false, "labelFontSize": 5.5, "labelFontWeight": "bold", "titleFontSize": 5.5, "titleFontWeight": "bold", "titlePadding": 3, "tickSize": 2.5, "labelPadding": 1, "domainWidth": 0.8, "tickWidth": 0.8}}}},
          {"data": {"name": "brk"}, "transform": [{"filter": "datum.panel === 'G'"}],
           "mark": {"type": "line", "color": "#000000", "strokeWidth": 0.7},
           "encoding": {"x": {"field": "grp", "type": "nominal", "sort": ["LFLS + V", "HFHS + S", "HFHS + MS"], "axis": null},
                        "y": {"field": "y", "type": "quantitative", "title": "ug/ total caecum", "axis": {"offset": -7, "values": [0, 20, 40, 60, 80, 100], "labelOverlap": false, "labelFontSize": 5.5, "labelFontWeight": "bold", "titleFontSize": 5.5, "titleFontWeight": "bold", "titlePadding": 3, "tickSize": 2.5, "labelPadding": 1, "domainWidth": 0.8, "tickWidth": 0.8}}, "order": {"field": "k"}}},
          {"data": {"values": [{"grp": "HFHS + S", "y": 87, "t": "p=0.09"}]},
           "mark": {"type": "text", "dx": 7.5, "fontSize": 6, "baseline": "alphabetic", "align": "center", "color": "#333333"},
           "encoding": {"x": {"field": "grp", "type": "nominal", "sort": ["LFLS + V", "HFHS + S", "HFHS + MS"], "axis": null},
                        "y": {"field": "y", "type": "quantitative", "title": "ug/ total caecum", "axis": {"offset": -7, "values": [0, 20, 40, 60, 80, 100], "labelOverlap": false, "labelFontSize": 5.5, "labelFontWeight": "bold", "titleFontSize": 5.5, "titleFontWeight": "bold", "titlePadding": 3, "tickSize": 2.5, "labelPadding": 1, "domainWidth": 0.8, "tickWidth": 0.8}}, "text": {"field": "t"}}}
         ]
        },
        {
         "width": 52, "height": 100,
         "resolve": {"axis": {"x": "independent"}},
         "layer": [
          {"data": {"name": "bars"}, "transform": [{"filter": "datum.panel === 'H'"}],
           "mark": {"type": "bar", "stroke": "#000000", "strokeWidth": 0.6},
           "encoding": {
            "x": {"field": "grp", "type": "nominal", "sort": ["LFLS + V", "HFHS + S", "HFHS + MS"], "scale": {"paddingInner": 0.22, "paddingOuter": 0.35},
                  "axis": {"title": null, "labelAngle": -45, "labelFontSize": 5, "labelFontWeight": "bold", "tickSize": 2.5, "labelPadding": 1, "domainWidth": 0.8, "tickWidth": 0.8}},
            "y": {"field": "mean", "type": "quantitative", "title": "ug/ total caecum", "scale": {"domain": [0, 30], "range": [100, 23], "nice": false},
                  "axis": {"values": [0, 10, 20, 30], "labelOverlap": false, "labelFontSize": 5.5, "labelFontWeight": "bold", "titleFontSize": 5.5, "titleFontWeight": "bold", "titlePadding": 3, "tickSize": 2.5, "labelPadding": 1, "domainWidth": 0.8, "tickWidth": 0.8}},
            "color": {"field": "grp", "type": "nominal", "scale": {"domain": ["LFLS + V", "HFHS + S", "HFHS + MS"], "range": ["#000000", "#8c1d50", "#f2a33a"]}, "legend": null}
           }},
          {"data": {"name": "bars"}, "transform": [{"filter": "datum.panel === 'H'"}],
           "mark": {"type": "rule", "color": "#000000", "strokeWidth": 0.8},
           "encoding": {"x": {"field": "grp", "type": "nominal", "sort": ["LFLS + V", "HFHS + S", "HFHS + MS"], "axis": null},
                        "y": {"field": "mean", "type": "quantitative", "title": "ug/ total caecum", "axis": {"values": [0, 10, 20, 30], "labelOverlap": false, "labelFontSize": 5.5, "labelFontWeight": "bold", "titleFontSize": 5.5, "titleFontWeight": "bold", "titlePadding": 3, "tickSize": 2.5, "labelPadding": 1, "domainWidth": 0.8, "tickWidth": 0.8}}, "y2": {"field": "hi"}}},
          {"data": {"name": "bars"}, "transform": [{"filter": "datum.panel === 'H'"}],
           "mark": {"type": "tick", "color": "#000000", "thickness": 0.8, "size": 5},
           "encoding": {"x": {"field": "grp", "type": "nominal", "sort": ["LFLS + V", "HFHS + S", "HFHS + MS"],
                              "axis": {"orient": "top", "labels": false, "ticks": false, "domain": false, "minExtent": 0, "title": "H", "titleX": -30.7, "titleY": 13, "titleAngle": 0, "titleAlign": "left", "titleBaseline": "alphabetic", "titleFontSize": 14, "titleFontWeight": "bold"}},
                        "y": {"field": "hi", "type": "quantitative", "title": "ug/ total caecum", "axis": {"values": [0, 10, 20, 30], "labelOverlap": false, "labelFontSize": 5.5, "labelFontWeight": "bold", "titleFontSize": 5.5, "titleFontWeight": "bold", "titlePadding": 3, "tickSize": 2.5, "labelPadding": 1, "domainWidth": 0.8, "tickWidth": 0.8}}}},
          {"data": {"name": "pts"}, "transform": [{"filter": "datum.panel === 'H'"}],
           "mark": {"type": "circle", "size": 4, "fill": "#ffffff", "stroke": "#333333", "strokeWidth": 0.35, "opacity": 1},
           "encoding": {"x": {"field": "grp", "type": "nominal", "sort": ["LFLS + V", "HFHS + S", "HFHS + MS"],
                              "axis": {"orient": "top", "labels": false, "ticks": false, "domain": false, "minExtent": 0, "title": "Total isovaleric acid", "titleX": 26, "titleY": 13, "titleAngle": 0, "titleAlign": "center", "titleBaseline": "alphabetic", "titleFontSize": 7, "titleFontWeight": "bold"}},
                        "xOffset": {"field": "rep", "type": "nominal", "scale": {"paddingOuter": 0.5}},
                        "y": {"field": "v", "type": "quantitative", "title": "ug/ total caecum", "axis": {"values": [0, 10, 20, 30], "labelOverlap": false, "labelFontSize": 5.5, "labelFontWeight": "bold", "titleFontSize": 5.5, "titleFontWeight": "bold", "titlePadding": 3, "tickSize": 2.5, "labelPadding": 1, "domainWidth": 0.8, "tickWidth": 0.8}}}},
          {"data": {"name": "brk"}, "transform": [{"filter": "datum.panel === 'H'"}],
           "mark": {"type": "line", "color": "#000000", "strokeWidth": 0.7},
           "encoding": {"x": {"field": "grp", "type": "nominal", "sort": ["LFLS + V", "HFHS + S", "HFHS + MS"], "axis": null},
                        "y": {"field": "y", "type": "quantitative", "title": "ug/ total caecum", "axis": {"values": [0, 10, 20, 30], "labelOverlap": false, "labelFontSize": 5.5, "labelFontWeight": "bold", "titleFontSize": 5.5, "titleFontWeight": "bold", "titlePadding": 3, "tickSize": 2.5, "labelPadding": 1, "domainWidth": 0.8, "tickWidth": 0.8}}, "order": {"field": "k"}}},
          {"data": {"values": [{"grp": "HFHS + S", "y": 24.6, "t": "*"}]},
           "mark": {"type": "text", "dx": 7.5, "fontSize": 10, "fontWeight": "bold", "baseline": "alphabetic", "align": "center", "color": "#000000"},
           "encoding": {"x": {"field": "grp", "type": "nominal", "sort": ["LFLS + V", "HFHS + S", "HFHS + MS"], "axis": null},
                        "y": {"field": "y", "type": "quantitative", "title": "ug/ total caecum", "axis": {"values": [0, 10, 20, 30], "labelOverlap": false, "labelFontSize": 5.5, "labelFontWeight": "bold", "titleFontSize": 5.5, "titleFontWeight": "bold", "titlePadding": 3, "tickSize": 2.5, "labelPadding": 1, "domainWidth": 0.8, "tickWidth": 0.8}}, "text": {"field": "t"}}}
         ]
        },
        {
         "width": 52, "height": 100,
         "resolve": {"axis": {"x": "independent"}},
         "layer": [
          {"data": {"name": "bars"}, "transform": [{"filter": "datum.panel === 'I'"}],
           "mark": {"type": "bar", "stroke": "#000000", "strokeWidth": 0.6},
           "encoding": {
            "x": {"field": "grp", "type": "nominal", "sort": ["LFLS + V", "HFHS + S", "HFHS + MS"], "scale": {"paddingInner": 0.22, "paddingOuter": 0.35},
                  "axis": {"title": null, "labelAngle": -45, "labelFontSize": 5, "labelFontWeight": "bold", "tickSize": 2.5, "labelPadding": 1, "domainWidth": 0.8, "tickWidth": 0.8}},
            "y": {"field": "mean", "type": "quantitative", "title": "ug/ total caecum", "scale": {"domain": [0, 20], "range": [100, 23], "nice": false},
                  "axis": {"values": [0, 5, 10, 15, 20], "labelOverlap": false, "labelFontSize": 5.5, "labelFontWeight": "bold", "titleFontSize": 5.5, "titleFontWeight": "bold", "titlePadding": 3, "tickSize": 2.5, "labelPadding": 1, "domainWidth": 0.8, "tickWidth": 0.8}},
            "color": {"field": "grp", "type": "nominal", "scale": {"domain": ["LFLS + V", "HFHS + S", "HFHS + MS"], "range": ["#000000", "#8c1d50", "#f2a33a"]}, "legend": null}
           }},
          {"data": {"name": "bars"}, "transform": [{"filter": "datum.panel === 'I'"}],
           "mark": {"type": "rule", "color": "#000000", "strokeWidth": 0.8},
           "encoding": {"x": {"field": "grp", "type": "nominal", "sort": ["LFLS + V", "HFHS + S", "HFHS + MS"], "axis": null},
                        "y": {"field": "mean", "type": "quantitative", "title": "ug/ total caecum", "axis": {"values": [0, 5, 10, 15, 20], "labelOverlap": false, "labelFontSize": 5.5, "labelFontWeight": "bold", "titleFontSize": 5.5, "titleFontWeight": "bold", "titlePadding": 3, "tickSize": 2.5, "labelPadding": 1, "domainWidth": 0.8, "tickWidth": 0.8}}, "y2": {"field": "hi"}}},
          {"data": {"name": "bars"}, "transform": [{"filter": "datum.panel === 'I'"}],
           "mark": {"type": "tick", "color": "#000000", "thickness": 0.8, "size": 5},
           "encoding": {"x": {"field": "grp", "type": "nominal", "sort": ["LFLS + V", "HFHS + S", "HFHS + MS"],
                              "axis": {"orient": "top", "labels": false, "ticks": false, "domain": false, "minExtent": 0, "title": "I", "titleX": -29, "titleY": 13, "titleAngle": 0, "titleAlign": "left", "titleBaseline": "alphabetic", "titleFontSize": 14, "titleFontWeight": "bold"}},
                        "y": {"field": "hi", "type": "quantitative", "title": "ug/ total caecum", "axis": {"values": [0, 5, 10, 15, 20], "labelOverlap": false, "labelFontSize": 5.5, "labelFontWeight": "bold", "titleFontSize": 5.5, "titleFontWeight": "bold", "titlePadding": 3, "tickSize": 2.5, "labelPadding": 1, "domainWidth": 0.8, "tickWidth": 0.8}}}},
          {"data": {"name": "pts"}, "transform": [{"filter": "datum.panel === 'I'"}],
           "mark": {"type": "circle", "size": 4, "fill": "#ffffff", "stroke": "#333333", "strokeWidth": 0.35, "opacity": 1},
           "encoding": {"x": {"field": "grp", "type": "nominal", "sort": ["LFLS + V", "HFHS + S", "HFHS + MS"],
                              "axis": {"orient": "top", "labels": false, "ticks": false, "domain": false, "minExtent": 0, "title": "Total valeric acid", "titleX": 26, "titleY": 13, "titleAngle": 0, "titleAlign": "center", "titleBaseline": "alphabetic", "titleFontSize": 7, "titleFontWeight": "bold"}},
                        "xOffset": {"field": "rep", "type": "nominal", "scale": {"paddingOuter": 0.5}},
                        "y": {"field": "v", "type": "quantitative", "title": "ug/ total caecum", "axis": {"values": [0, 5, 10, 15, 20], "labelOverlap": false, "labelFontSize": 5.5, "labelFontWeight": "bold", "titleFontSize": 5.5, "titleFontWeight": "bold", "titlePadding": 3, "tickSize": 2.5, "labelPadding": 1, "domainWidth": 0.8, "tickWidth": 0.8}}}}
         ]
        },
        {
         "width": 52, "height": 100,
         "resolve": {"axis": {"x": "independent"}},
         "layer": [
          {"data": {"name": "bars"}, "transform": [{"filter": "datum.panel === 'J'"}],
           "mark": {"type": "bar", "stroke": "#000000", "strokeWidth": 0.6},
           "encoding": {
            "x": {"field": "grp", "type": "nominal", "sort": ["LFLS + V", "HFHS + S", "HFHS + MS"], "scale": {"paddingInner": 0.22, "paddingOuter": 0.35},
                  "axis": {"title": null, "labelAngle": -45, "labelFontSize": 5, "labelFontWeight": "bold", "tickSize": 2.5, "labelPadding": 1, "domainWidth": 0.8, "tickWidth": 0.8}},
            "y": {"field": "mean", "type": "quantitative", "title": "ug/ total caecum", "scale": {"domain": [0, 25], "range": [100, 23], "nice": false},
                  "axis": {"values": [0, 5, 10, 15, 20, 25], "labelOverlap": false, "labelFontSize": 5.5, "labelFontWeight": "bold", "titleFontSize": 5.5, "titleFontWeight": "bold", "titlePadding": 3, "tickSize": 2.5, "labelPadding": 1, "domainWidth": 0.8, "tickWidth": 0.8}},
            "color": {"field": "grp", "type": "nominal", "scale": {"domain": ["LFLS + V", "HFHS + S", "HFHS + MS"], "range": ["#000000", "#8c1d50", "#f2a33a"]}, "legend": null}
           }},
          {"data": {"name": "bars"}, "transform": [{"filter": "datum.panel === 'J'"}],
           "mark": {"type": "rule", "color": "#000000", "strokeWidth": 0.8},
           "encoding": {"x": {"field": "grp", "type": "nominal", "sort": ["LFLS + V", "HFHS + S", "HFHS + MS"], "axis": null},
                        "y": {"field": "mean", "type": "quantitative", "title": "ug/ total caecum", "axis": {"values": [0, 5, 10, 15, 20, 25], "labelOverlap": false, "labelFontSize": 5.5, "labelFontWeight": "bold", "titleFontSize": 5.5, "titleFontWeight": "bold", "titlePadding": 3, "tickSize": 2.5, "labelPadding": 1, "domainWidth": 0.8, "tickWidth": 0.8}}, "y2": {"field": "hi"}}},
          {"data": {"name": "bars"}, "transform": [{"filter": "datum.panel === 'J'"}],
           "mark": {"type": "tick", "color": "#000000", "thickness": 0.8, "size": 5},
           "encoding": {"x": {"field": "grp", "type": "nominal", "sort": ["LFLS + V", "HFHS + S", "HFHS + MS"],
                              "axis": {"orient": "top", "labels": false, "ticks": false, "domain": false, "minExtent": 0, "title": "J", "titleX": -27, "titleY": 13, "titleAngle": 0, "titleAlign": "left", "titleBaseline": "alphabetic", "titleFontSize": 14, "titleFontWeight": "bold"}},
                        "y": {"field": "hi", "type": "quantitative", "title": "ug/ total caecum", "axis": {"values": [0, 5, 10, 15, 20, 25], "labelOverlap": false, "labelFontSize": 5.5, "labelFontWeight": "bold", "titleFontSize": 5.5, "titleFontWeight": "bold", "titlePadding": 3, "tickSize": 2.5, "labelPadding": 1, "domainWidth": 0.8, "tickWidth": 0.8}}}},
          {"data": {"name": "pts"}, "transform": [{"filter": "datum.panel === 'J'"}],
           "mark": {"type": "circle", "size": 4, "fill": "#ffffff", "stroke": "#333333", "strokeWidth": 0.35, "opacity": 1},
           "encoding": {"x": {"field": "grp", "type": "nominal", "sort": ["LFLS + V", "HFHS + S", "HFHS + MS"],
                              "axis": {"orient": "top", "labels": false, "ticks": false, "domain": false, "minExtent": 0, "title": "Total isobutyric acid", "titleX": 26, "titleY": 13, "titleAngle": 0, "titleAlign": "center", "titleBaseline": "alphabetic", "titleFontSize": 7, "titleFontWeight": "bold"}},
                        "xOffset": {"field": "rep", "type": "nominal", "scale": {"paddingOuter": 0.5}},
                        "y": {"field": "v", "type": "quantitative", "title": "ug/ total caecum", "axis": {"values": [0, 5, 10, 15, 20, 25], "labelOverlap": false, "labelFontSize": 5.5, "labelFontWeight": "bold", "titleFontSize": 5.5, "titleFontWeight": "bold", "titlePadding": 3, "tickSize": 2.5, "labelPadding": 1, "domainWidth": 0.8, "tickWidth": 0.8}}}}
         ]
        }
       ],
       "spacing": 24,
       "resolve": {"scale": {"color": "independent"}}
      }
     ],
     "columns": 1, "align": "none", "spacing": 29,
     "resolve": {"scale": {"color": "independent"}}
    }
   ],
   "columns": 1, "align": "none", "spacing": 8,
   "resolve": {"scale": {"color": "independent"}}
  }
 ],
 "spacing": -34,
 "resolve": {"scale": {"color": "independent"}}
}
